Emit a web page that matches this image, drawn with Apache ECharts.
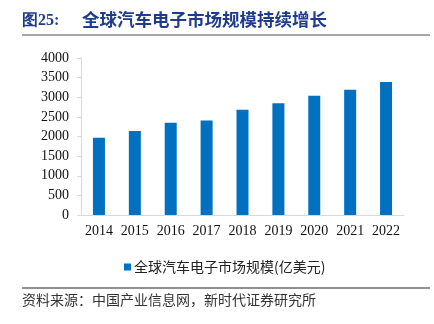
<!DOCTYPE html>
<html><head><meta charset="utf-8">
<script src="https://cdn.jsdelivr.net/npm/echarts@6/dist/echarts.min.js"></script>
<style>html,body{margin:0;padding:0;background:#fff}#c{width:434px;height:324px}</style>
</head><body><div id="c"></div>
<script>
const categories = ['2014','2015','2016','2017','2018','2019','2020','2021','2022'];
const values = [1970, 2140, 2350, 2410, 2680, 2850, 3040, 3190, 3390];
const seriesName = '全球汽车电子市场规模(亿美元)';
const titleNum = '图25:';
const titleText = '全球汽车电子市场规模持续增长';
const sourceText = '资料来源：中国产业信息网，新时代证券研究所';
const serif = '"Liberation Serif", "Times New Roman", serif';
const cjk = '"Noto Sans CJK SC", sans-serif';
const chart = echarts.init(document.getElementById('c'), null, {renderer:'canvas'});
chart.setOption({
  animation:false,
  backgroundColor:'#fff',
  graphic:[
    {type:'text', left:22, top:13, style:{text:titleNum, font:'bold 16px '+serif, fill:'#1f3c8c'}},
    {type:'text', left:82, top:11, style:{text:titleText, font:'bold 17.5px '+cjk, fill:'#1f3c8c'}},
    {type:'line', shape:{x1:22,y1:35,x2:430,y2:35}, style:{stroke:'#a6a6a6', lineWidth:2}},
    {type:'line', shape:{x1:22,y1:288,x2:430,y2:288}, style:{stroke:'#222', lineWidth:1}},
    {type:'text', left:22, top:293, style:{text:sourceText, font:'14px '+cjk, fill:'#333'}}
  ],
  legend:{
    left:119, top:255, itemWidth:7, itemHeight:7, icon:'rect', itemGap:5,
    textStyle:{fontFamily:cjk, fontSize:14, color:'#222', padding:[0,0,0,-2]},
    data:[seriesName]
  },
  grid:{left:81, right:30, top:58, bottom:109, containLabel:false},
  xAxis:{
    type:'category', data:categories,
    axisLine:{lineStyle:{color:'#d9d9d9'}},
    axisTick:{show:false},
    axisLabel:{fontFamily:serif, fontSize:14, color:'#111', margin:9, interval:0}
  },
  yAxis:{
    type:'value', min:0, max:4000, interval:500,
    axisLine:{show:true, lineStyle:{color:'#d9d9d9'}},
    axisTick:{show:true, length:4, lineStyle:{color:'#d9d9d9'}},
    splitLine:{show:false},
    axisLabel:{fontFamily:serif, fontSize:14, color:'#111', margin:12, formatter:function(v){return String(v);}}
  },
  series:[{
    name:seriesName, type:'bar', data:values, barWidth:12,
    itemStyle:{color:'#0070c0'}
  }]
});
</script></body></html>
